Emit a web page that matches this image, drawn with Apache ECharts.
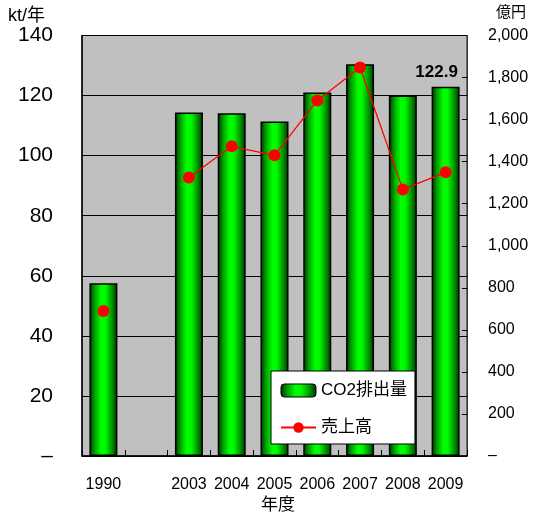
<!DOCTYPE html>
<html>
<head>
<meta charset="utf-8">
<script src="https://cdn.jsdelivr.net/npm/echarts@6/dist/echarts.min.js"></script>
<style>
  html, body { margin: 0; padding: 0; background: #fff; }
  #chart { width: 533px; height: 517px; }
</style>
</head>
<body>
<div id="chart"></div>
<script>
// 年度（1990 と 2003 の間は空欄）
const years = ['1990', '', '2003', '2004', '2005', '2006', '2007', '2008', '2009'];
// CO2排出量 (kt/年)
const co2 = [57.5, null, 114.4, 114.1, 111.4, 121.0, 130.4, 120.0, 122.9];
// 売上高 (億円)
const sales = [690, null, 1325, 1473, 1430, 1691, 1848, 1268, 1349];
// 軸の目盛り
const leftTicks = { min: 0, max: 140, interval: 20 };
const rightTicks = { min: 0, max: 2000, interval: 200 };

const FONT = '"Liberation Sans", "Noto Sans CJK JP", sans-serif';

const barGradient = new echarts.graphic.LinearGradient(0, 0, 1, 0, [
  { offset: 0, color: '#002a00' },
  { offset: 0.18, color: '#009a00' },
  { offset: 0.42, color: '#00ff00' },
  { offset: 0.58, color: '#00f800' },
  { offset: 0.85, color: '#008000' },
  { offset: 1, color: '#002a00' }
]);

const lastIdx = co2.length - 1;
const barData = co2.map((v, i) => i === lastIdx ? {
  value: v,
  label: {
    show: true, position: 'top', distance: 6, offset: [-9, 0],
    fontSize: 17, fontWeight: 'bold', color: '#000', fontFamily: FONT,
    formatter: p => p.value.toFixed(1)
  }
} : v);

const chart = echarts.init(document.getElementById('chart'), null, { renderer: 'canvas' });
chart.setOption({
  animation: false,
  backgroundColor: '#fff',
  textStyle: { fontFamily: FONT, color: '#000' },
  grid: {
    left: 82, right: 66, top: 35.5, bottom: 61,
    outerBoundsMode: 'none',
    containLabel: false,
    show: true, backgroundColor: '#c0c0c0', borderColor: '#222', borderWidth: 1
  },
  legend: {
    left: 271, top: 371,
    orient: 'vertical',
    backgroundColor: '#fff', borderColor: '#000', borderWidth: 1,
    padding: [11, 8, 8, 9],
    itemGap: 20, itemWidth: 35, itemHeight: 13,
    textStyle: { fontSize: 17, color: '#000', fontFamily: FONT },
    data: [
      { name: 'CO2排出量', itemStyle: { borderColor: '#000', borderWidth: 1 } },
      { name: '売上高' }
    ]
  },
  xAxis: {
    type: 'category',
    data: years,
    axisLine: { show: true, lineStyle: { color: '#000', width: 1.5 } },
    axisTick: { show: true, inside: true, length: 6, lineStyle: { color: '#000' } },
    axisLabel: { fontSize: 16, color: '#000', margin: 21, interval: 0 }
  },
  yAxis: [
    {
      type: 'value',
      min: leftTicks.min, max: leftTicks.max, interval: leftTicks.interval,
      axisLine: { show: true, lineStyle: { color: '#000', width: 1.5 } },
      axisTick: { show: false },
      splitLine: { show: true, lineStyle: { color: '#000', width: 1 } },
      axisLabel: {
        fontSize: 21, color: '#000', margin: 29,
        formatter: v => v === 0 ? '–' : String(v)
      }
    },
    {
      type: 'value',
      min: rightTicks.min, max: rightTicks.max, interval: rightTicks.interval,
      axisLine: { show: true, lineStyle: { color: '#333', width: 1 } },
      axisTick: { show: true, inside: true, length: 5, lineStyle: { color: '#000' } },
      splitLine: { show: false },
      axisLabel: {
        fontSize: 16, color: '#000', margin: 21,
        formatter: v => v === 0 ? '–' : v.toLocaleString('en-US')
      }
    }
  ],
  graphic: [
    { type: 'text', left: 8, top: 7, style: { text: 'kt/年', fill: '#000', font: '18px ' + FONT } },
    { type: 'text', left: 496, top: 5, style: { text: '億円', fill: '#000', font: '15px ' + FONT } },
    { type: 'text', left: 261, top: 497, style: { text: '年度', fill: '#000', font: '17px ' + FONT } }
  ],
  series: [
    {
      name: 'CO2排出量',
      type: 'bar',
      yAxisIndex: 0,
      barWidth: 28,
      data: barData,
      itemStyle: { color: barGradient, borderColor: '#000', borderWidth: 1.5 }
    },
    {
      name: '売上高',
      type: 'line',
      yAxisIndex: 1,
      data: sales,
      connectNulls: false,
      symbol: 'circle',
      symbolSize: 12,
      lineStyle: { color: '#ff0000', width: 1.3 },
      itemStyle: { color: '#ff0000' },
      z: 5
    }
  ]
});
</script>
</body>
</html>
